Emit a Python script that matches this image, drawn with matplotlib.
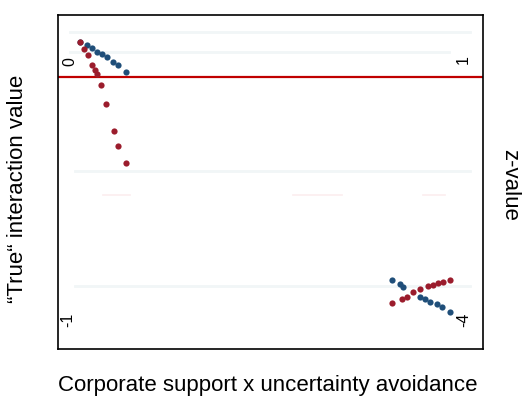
import matplotlib
matplotlib.use("Agg")
import matplotlib.pyplot as plt

plt.rcParams['font.family'] = ['Liberation Sans', 'DejaVu Sans']

# corner cluster, top left (low values)
blue_top_x = [0.52, 0.68, 0.80, 0.92, 1.04, 1.15, 1.29, 1.41, 1.60]
blue_top_y = [0.35, 0.32, 0.29, 0.25, 0.23, 0.20, 0.15, 0.12, 0.05]
red_top_x = [0.52, 0.61, 0.71, 0.80, 0.87, 0.92, 1.01, 1.13, 1.32, 1.41, 1.60]
red_top_y = [0.35, 0.28, 0.22, 0.12, 0.07, 0.03, -0.08, -0.27, -0.54, -0.69, -0.86]

# corner cluster, bottom right
blue_bot_x = [7.86, 8.05, 8.12, 8.52, 8.64, 8.75, 8.92, 9.04, 9.22]
blue_bot_y = [-2.03, -2.07, -2.10, -2.20, -2.22, -2.25, -2.27, -2.30, -2.35]
red_bot_x = [7.86, 8.09, 8.21, 8.35, 8.52, 8.71, 8.82, 8.94, 9.06, 9.22]
red_bot_y = [-2.26, -2.22, -2.20, -2.15, -2.12, -2.09, -2.08, -2.06, -2.05, -2.03]

# faint grid rows
grid_y = [0.45, 0.25, -0.94, -2.09]
grid_x0 = [0.28, 0.28, 0.40, 0.40]
grid_x1 = [9.70, 9.20, 9.70, 9.70]
pink_y = -1.18
pink_x0 = [1.06, 5.53, 8.59]
pink_x1 = [1.69, 6.68, 9.11]

corner_labels = ["0", "1", "-1", "-4"]
corner_x = [0.28, 9.53, 0.24, 9.55]
corner_y = [0.15, 0.17, -2.43, -2.43]

BLUE = '#1f4e79'
RED = '#9b1c2c'

fig = plt.figure(figsize=(5.22, 4.01), dpi=100)
ax = fig.add_axes([0.111, 0.1297, 0.814, 0.833])

for y, a, b in zip(grid_y, grid_x0, grid_x1):
    ax.plot([a, b], [y, y], color='#f1f6f7', lw=2, zorder=1)
for a, b in zip(pink_x0, pink_x1):
    ax.plot([a, b], [pink_y, pink_y], color='#fcedef', lw=1.2, zorder=1)

ax.axhline(0, color='#c00000', lw=1.6, zorder=2)

ax.scatter(blue_top_x, blue_top_y, s=20, color=BLUE, zorder=3, lw=0)
ax.scatter(red_top_x, red_top_y, s=20, color=RED, zorder=3, lw=0)
ax.scatter(blue_bot_x, blue_bot_y, s=20, color=BLUE, zorder=3, lw=0)
ax.scatter(red_bot_x, red_bot_y, s=20, color=RED, zorder=3, lw=0)

for t, x, y in zip(corner_labels, corner_x, corner_y):
    ax.text(x, y, t, rotation=90, fontsize=11.5, ha='center', va='center')

ax.set_xlim(0, 10)
ax.set_ylim(-2.72, 0.62)
ax.set_xticks([])
ax.set_yticks([])
for s in ax.spines.values():
    s.set_linewidth(1.2)

fig.text(18 / 522, 1 - 189 / 401, "\u201cTrue\u201c interaction value", rotation=90,
         fontsize=16, ha='center', va='center')
fig.text(510 / 522, 1 - 185 / 401, "z-value", rotation=270,
         fontsize=16, ha='center', va='center')
fig.text(268 / 522, 1 - 385 / 401, "Corporate support x uncertainty avoidance",
         fontsize=16, ha='center', va='center')

fig.savefig("out.png", dpi=100)
